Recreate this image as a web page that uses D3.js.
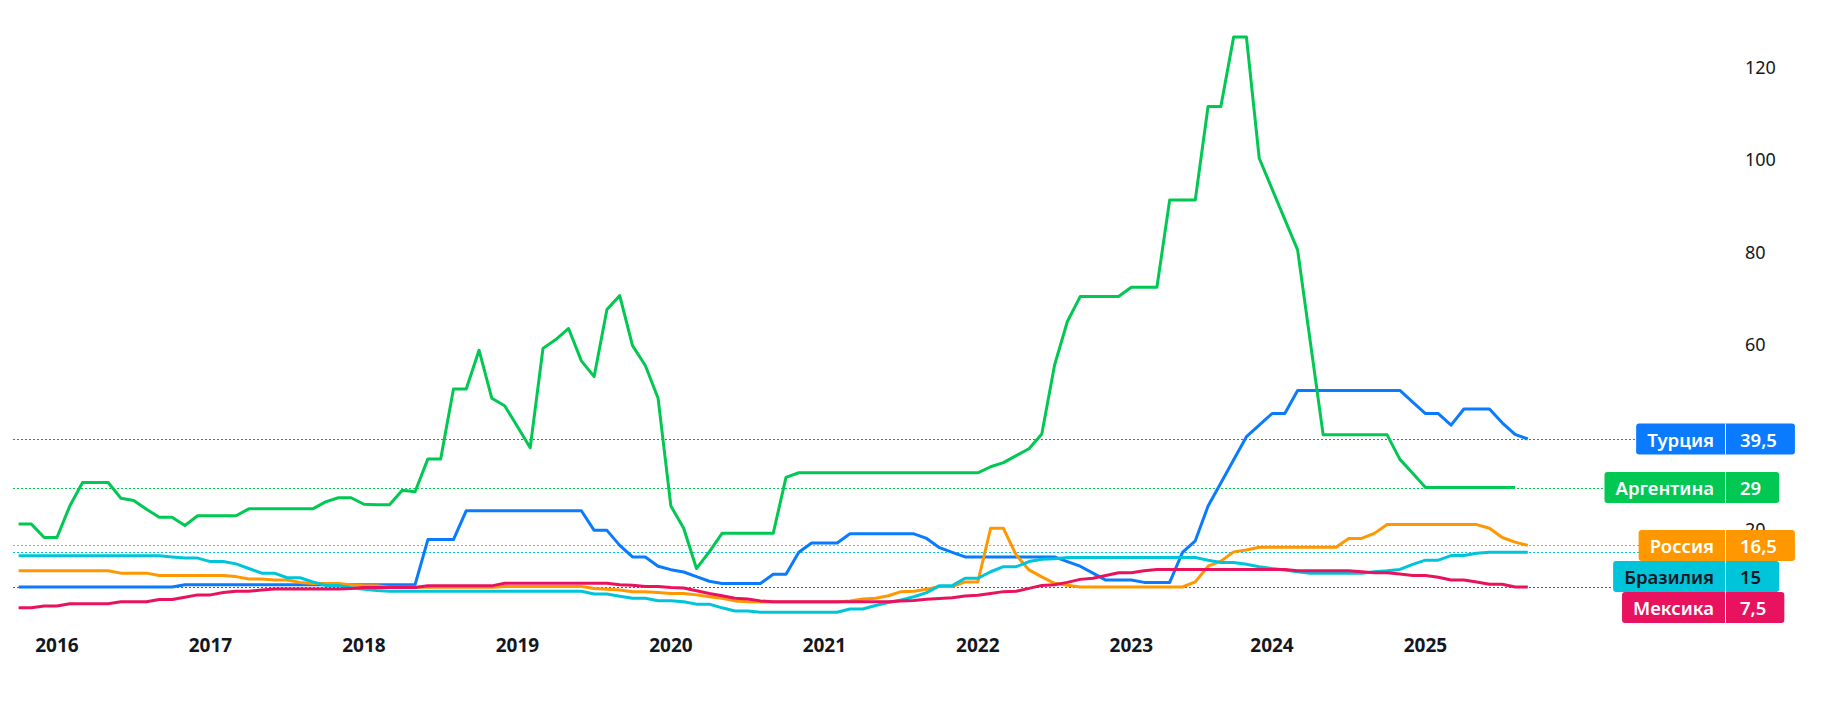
<!DOCTYPE html>
<html>
<head>
<meta charset="utf-8">
<script src="https://cdn.jsdelivr.net/npm/d3@7"></script>
<style>
  html, body { margin: 0; padding: 0; background: #ffffff; }
  svg { display: block; }
</style>
</head>
<body>
<svg id="chart" width="1836" height="702"></svg>
<script>
// ---------- DATA ----------
// Monthly bars (one month of 2023 missing in the source feed)
const months = [
  "2015-10","2015-11","2015-12",
  "2016-01","2016-02","2016-03","2016-04","2016-05","2016-06","2016-07","2016-08","2016-09","2016-10","2016-11","2016-12",
  "2017-01","2017-02","2017-03","2017-04","2017-05","2017-06","2017-07","2017-08","2017-09","2017-10","2017-11","2017-12",
  "2018-01","2018-02","2018-03","2018-04","2018-05","2018-06","2018-07","2018-08","2018-09","2018-10","2018-11","2018-12",
  "2019-01","2019-02","2019-03","2019-04","2019-05","2019-06","2019-07","2019-08","2019-09","2019-10","2019-11","2019-12",
  "2020-01","2020-02","2020-03","2020-04","2020-05","2020-06","2020-07","2020-08","2020-09","2020-10","2020-11","2020-12",
  "2021-01","2021-02","2021-03","2021-04","2021-05","2021-06","2021-07","2021-08","2021-09","2021-10","2021-11","2021-12",
  "2022-01","2022-02","2022-03","2022-04","2022-05","2022-06","2022-07","2022-08","2022-09","2022-10","2022-11","2022-12",
  "2023-01","2023-02","2023-03","2023-05","2023-06","2023-07","2023-08","2023-09","2023-10","2023-11","2023-12",
  "2024-01","2024-02","2024-03","2024-04","2024-05","2024-06","2024-07","2024-08","2024-09","2024-10","2024-11","2024-12",
  "2025-01","2025-02","2025-03","2025-04","2025-05","2025-06","2025-07","2025-08","2025-09"
];

const argentina = [
  21.1, 21.1, 18.2,
  18.2, 25.0, 30.1, 30.1, 30.1, 26.7, 26.2, 24.3, 22.6, 22.6, 20.8, 22.9,
  22.9, 22.9, 22.9, 24.4, 24.4, 24.4, 24.4, 24.4, 24.4, 25.9, 26.8, 26.8,
  25.4, 25.3, 25.3, 28.4, 28.1, 35.2, 35.2, 50.3, 50.3, 58.7, 48.3, 46.7,
  42.2, 37.6, 59.1, 61.0, 63.4, 56.4, 53.0, 67.5, 70.5, 59.7, 55.4, 48.3,
  25.0, 20.2, 11.5, 15.1, 19.1, 19.1, 19.1, 19.1, 19.1, 31.2, 32.2, 32.2,
  32.2, 32.2, 32.2, 32.2, 32.2, 32.2, 32.2, 32.2, 32.2, 32.2, 32.2, 32.2,
  32.2, 33.5, 34.4, 35.9, 37.4, 40.6, 55.5, 64.9, 70.3, 70.3, 70.3, 70.3,
  72.3, 72.3, 72.3, 91.2, 91.2, 91.2, 111.4, 111.4, 126.4, 126.4, 100.2,
  93.6, 87.0, 80.4, 60.4, 40.4, 40.4, 40.4, 40.4, 40.4, 40.4, 35.1, 32.1,
  29, 29, 29, 29, 29, 29, 29, 29, null
];

const turkey = [
  7.5, 7.5, 7.5,
  7.5, 7.5, 7.5, 7.5, 7.5, 7.5, 7.5, 7.5, 7.5, 7.5, 8, 8,
  8, 8, 8, 8, 8, 8, 8, 8, 8, 8, 8, 8,
  8, 8, 8, 8, 8, 17.75, 17.75, 17.75, 24, 24, 24, 24,
  24, 24, 24, 24, 24, 24, 19.75, 19.75, 16.5, 14, 14, 12,
  11.25, 10.75, 9.75, 8.75, 8.25, 8.25, 8.25, 8.25, 10.25, 10.25, 15, 17,
  17, 17, 19, 19, 19, 19, 19, 19, 18, 16, 15, 14,
  14, 14, 14, 14, 14, 14, 14, 13, 12, 10.5, 9, 9,
  9, 8.5, 8.5, 8.5, 15, 17.5, 25, 30, 35, 40, 42.5,
  45, 45, 50, 50, 50, 50, 50, 50, 50, 50, 50, 47.5,
  45, 45, 42.5, 46, 46, 46, 43, 40.5, 39.5
];

const russia = [
  11, 11, 11,
  11, 11, 11, 11, 11, 10.5, 10.5, 10.5, 10, 10, 10, 10,
  10, 10, 9.75, 9.25, 9.25, 9, 9, 8.5, 8.25, 8.25, 8.25, 8,
  7.75, 7.75, 7.45, 7.45, 7.45, 7.45, 7.45, 7.45, 7.45, 7.45, 7.45, 7.6,
  7.6, 7.6, 7.6, 7.6, 7.6, 7.6, 7.2, 7.0, 6.85, 6.5, 6.5, 6.3,
  6.1, 6.1, 5.8, 5.4, 5.05, 4.5, 4.3, 4.25, 4.25, 4.25, 4.25, 4.25,
  4.25, 4.25, 4.5, 4.9, 5.05, 5.6, 6.5, 6.6, 7.0, 7.6, 7.6, 8.6,
  8.6, 20.2, 20.2, 14.4, 11.2, 9.7, 8.3, 7.9, 7.5, 7.5, 7.5, 7.5,
  7.5, 7.5, 7.5, 7.5, 7.5, 8.6, 12.0, 13.1, 15.1, 15.5, 16.1,
  16.1, 16.1, 16.1, 16.1, 16.1, 16.1, 18, 18, 19.1, 21, 21, 21,
  21, 21, 21, 21, 21, 20.2, 18.2, 17.2, 16.5
];

const brazil = [
  14.25, 14.25, 14.25,
  14.25, 14.25, 14.25, 14.25, 14.25, 14.25, 14.25, 14.25, 14.25, 14.0, 13.75, 13.75,
  13, 13, 12.5, 11.5, 10.5, 10.5, 9.5, 9.5, 8.6, 7.85, 7.85, 7.35,
  7.0, 6.75, 6.6, 6.6, 6.6, 6.6, 6.6, 6.6, 6.6, 6.6, 6.6, 6.6,
  6.6, 6.6, 6.6, 6.6, 6.6, 6.6, 6.0, 6.0, 5.5, 5.05, 5.05, 4.55,
  4.55, 4.3, 3.8, 3.8, 3.0, 2.3, 2.3, 2.05, 2.05, 2.05, 2.05, 2.05,
  2.05, 2.05, 2.75, 2.75, 3.5, 4.15, 4.7, 5.4, 6.3, 7.8, 7.8, 9.4,
  9.4, 10.8, 11.9, 11.9, 13.0, 13.5, 13.6, 13.9, 13.9, 13.9, 13.9, 13.9,
  13.9, 13.9, 13.9, 13.9, 13.9, 13.9, 13.3, 12.8, 12.8, 12.4, 11.9,
  11.5, 11.2, 10.8, 10.45, 10.45, 10.45, 10.45, 10.45, 10.8, 11.0, 11.3, 12.4,
  13.3, 13.3, 14.3, 14.3, 14.8, 15, 15, 15, 15
];

const mexico = [
  3.0, 3.0, 3.4,
  3.4, 3.9, 3.9, 3.9, 3.9, 4.3, 4.3, 4.3, 4.8, 4.8, 5.3, 5.8,
  5.8, 6.3, 6.6, 6.6, 6.85, 7.06, 7.06, 7.06, 7.06, 7.06, 7.06, 7.2,
  7.4, 7.4, 7.4, 7.4, 7.4, 7.75, 7.75, 7.75, 7.75, 7.75, 7.75, 8.3,
  8.3, 8.3, 8.3, 8.3, 8.3, 8.3, 8.3, 8.3, 8.0, 7.9, 7.6, 7.6,
  7.4, 7.3, 6.7, 6.1, 5.6, 5.05, 4.9, 4.5, 4.3, 4.3, 4.3, 4.3,
  4.3, 4.3, 4.3, 4.3, 4.3, 4.3, 4.45, 4.6, 4.85, 5.0, 5.2, 5.55,
  5.7, 6.1, 6.5, 6.6, 7.2, 7.85, 8.0, 8.5, 9.15, 9.4, 10.0, 10.6,
  10.6, 11.0, 11.3, 11.3, 11.3, 11.3, 11.3, 11.3, 11.3, 11.3, 11.3,
  11.3, 11.3, 11.0, 11.0, 11.0, 11.0, 11.0, 10.8, 10.6, 10.6, 10.3, 10.0,
  10.0, 9.6, 9.0, 9.0, 8.6, 8.1, 8.1, 7.5, 7.5
];

const seriesNames  = ["Турция", "Аргентина", "Россия", "Бразилия", "Мексика"];
const lastValues   = ["39,5", "29", "16,5", "15", "7,5"];
const seriesColors = ["#0A7BFF", "#00C853", "#FF9800", "#00C4DA", "#E8125F"];
const labelText    = ["#ffffff", "#ffffff", "#ffffff", "#131722", "#ffffff"];
const seriesData   = [turkey, argentina, russia, brazil, mexico];
const drawOrder    = [0, 1, 2, 3, 4];

// ticks shown on the price scale (40 and 0 are hidden behind the value labels)
const yTicks = [20, 60, 80, 100, 120];

// ---------- LAYOUT ----------
const svg = d3.select("#chart");
const W = 1836, H = 702;
svg.append("rect").attr("width", W).attr("height", H).attr("fill", "#ffffff");

const x = d3.scaleLinear().domain([0, months.length - 1]).range([18.6, 18.6 + 12.79 * (months.length - 1)]);
const y = d3.scaleLinear().domain([0, 120]).range([621.7, 66.7]);

const FONT = "'Noto Sans', 'Open Sans', sans-serif";

// X axis: year labels at the first bar of each year
const yearStarts = [];
months.forEach((m, i) => {
  if (m.slice(5) === "01") yearStarts.push({ i, yr: m.slice(0, 4) });
});
svg.append("g").selectAll("text").data(yearStarts).join("text")
  .attr("x", d => x(d.i))
  .attr("y", 645)
  .attr("text-anchor", "middle")
  .attr("dominant-baseline", "central")
  .attr("font-family", FONT)
  .attr("font-weight", 700)
  .attr("font-size", 19)
  .attr("fill", "#131722")
  .text(d => d.yr);

// Y axis labels (right side)
svg.append("g").selectAll("text").data(yTicks).join("text")
  .attr("x", 1745)
  .attr("y", d => y(d))
  .attr("dominant-baseline", "central")
  .attr("font-family", FONT)
  .attr("font-size", 18)
  .attr("fill", "#131722")
  .text(d => d);

// Dotted last-value lines
const lastIdx = seriesData.map(s => { let k = s.length - 1; while (s[k] == null) k--; return k; });
svg.append("g").selectAll("line").data(drawOrder).join("line")
  .attr("x1", 13).attr("x2", 1725)
  .attr("y1", k => Math.round(y(seriesData[k][lastIdx[k]])) + 0.5)
  .attr("y2", k => Math.round(y(seriesData[k][lastIdx[k]])) + 0.5)
  .attr("stroke", k => seriesColors[k])
  .attr("stroke-width", 1)
  .attr("stroke-dasharray", "2,2");

// Lines
const line = d3.line()
  .defined(d => d != null)
  .x((d, i) => x(i))
  .y(d => y(d));
svg.append("g").selectAll("path").data(drawOrder).join("path")
  .attr("d", k => line(seriesData[k]))
  .attr("fill", "none")
  .attr("stroke", k => seriesColors[k])
  .attr("stroke-width", 3)
  .attr("stroke-linejoin", "round")
  .attr("stroke-linecap", "butt");

// Last-value labels, stacked to avoid overlap
const BOX_H = 31, DIV_X = 1725;
const order = d3.range(seriesNames.length).sort((a, b) => y(seriesData[a][lastIdx[a]]) - y(seriesData[b][lastIdx[b]]));
let prevBottom = -Infinity;
const labelPos = {};
order.forEach(k => {
  let top = y(seriesData[k][lastIdx[k]]) - BOX_H / 2;
  if (top < prevBottom) top = prevBottom;
  labelPos[k] = top;
  prevBottom = top + BOX_H;
});

const lg = svg.append("g");
order.forEach(k => {
  const g = lg.append("g");
  const top = labelPos[k];
  const nameT = g.append("text")
    .attr("font-family", FONT).attr("font-weight", 600).attr("font-size", 18.5)
    .attr("fill", labelText[k]).attr("dominant-baseline", "central")
    .text(seriesNames[k]);
  const valT = g.append("text")
    .attr("font-family", FONT).attr("font-weight", 600).attr("font-size", 18.5)
    .attr("fill", labelText[k]).attr("dominant-baseline", "central")
    .text(lastValues[k]);
  const nw = nameT.node().getComputedTextLength();
  const vw = valT.node().getComputedTextLength();
  const nameW = nw + 22;
  const valW = vw + 32;
  g.insert("rect", "text")
    .attr("x", DIV_X - nameW).attr("y", top)
    .attr("width", nameW + valW + 1).attr("height", BOX_H)
    .attr("rx", 3).attr("fill", seriesColors[k]);
  g.insert("line", "text")
    .attr("x1", DIV_X + 0.5).attr("x2", DIV_X + 0.5)
    .attr("y1", top).attr("y2", top + BOX_H)
    .attr("stroke", "#ffffff").attr("stroke-width", 1);
  nameT.attr("x", DIV_X - nameW / 2).attr("text-anchor", "middle").attr("y", top + BOX_H / 2);
  valT.attr("x", DIV_X + 1 + valW / 2 - 2).attr("text-anchor", "middle").attr("y", top + BOX_H / 2);
});
</script>
</body>
</html>
